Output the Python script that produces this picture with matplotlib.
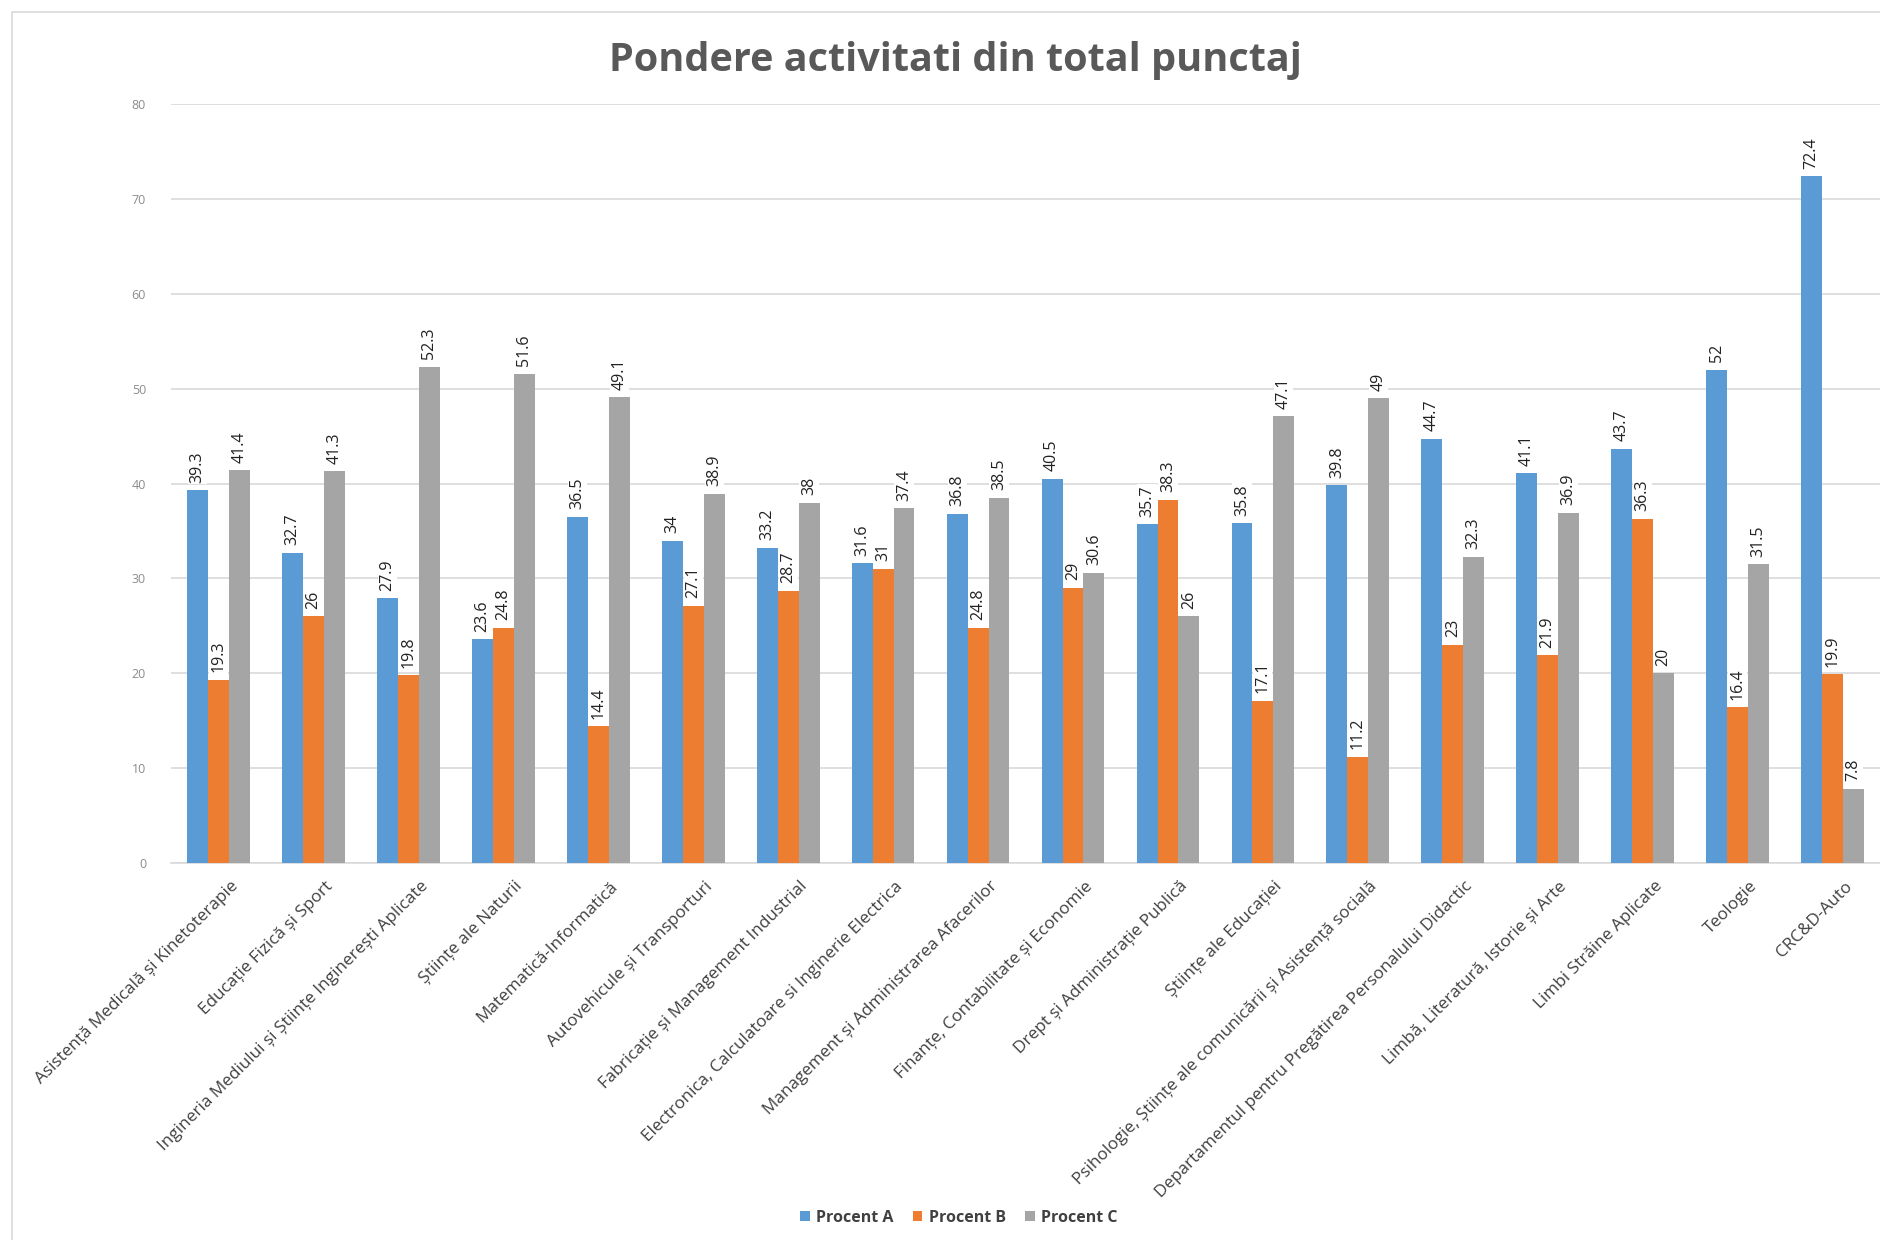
import matplotlib.pyplot as plt
from matplotlib.patches import Rectangle
import numpy as np

plt.rcParams['font.family'] = ['Open Sans', 'DejaVu Sans']

# Categorii (facultati / departamente)
categorii = [
    "Asistență Medicală și Kinetoterapie",
    "Educație Fizică și Sport",
    "Ingineria Mediului și Științe Inginerești Aplicate",
    "Științe ale Naturii",
    "Matematică-Informatică",
    "Autovehicule și Transporturi",
    "Fabricație și Management Industrial",
    "Electronica, Calculatoare si Inginerie Electrica",
    "Management și Administrarea Afacerilor",
    "Finanțe, Contabilitate și Economie",
    "Drept și Administrație Publică",
    "Științe ale Educației",
    "Psihologie, Științe ale comunicării și Asistență socială",
    "Departamentul pentru Pregătirea Personalului Didactic",
    "Limbă, Literatură, Istorie și Arte",
    "Limbi Străine Aplicate",
    "Teologie",
    "CRC&D-Auto",
]

procent_a = [39.3, 32.7, 27.9, 23.6, 36.5, 34, 33.2, 31.6, 36.8, 40.5,
             35.7, 35.8, 39.8, 44.7, 41.1, 43.7, 52, 72.4]
procent_b = [19.3, 26, 19.8, 24.8, 14.4, 27.1, 28.7, 31, 24.8, 29,
             38.3, 17.1, 11.2, 23, 21.9, 36.3, 16.4, 19.9]
procent_c = [41.4, 41.3, 52.3, 51.6, 49.1, 38.9, 38, 37.4, 38.5, 30.6,
             26, 47.1, 49, 32.3, 36.9, 20, 31.5, 7.8]

serii = [("Procent A", procent_a, "#5B9BD5"),
         ("Procent B", procent_b, "#ED7D31"),
         ("Procent C", procent_c, "#A5A5A5")]

fig = plt.figure(figsize=(18.8, 12.4), dpi=100)
ax = fig.add_axes([0.091, 0.304, 0.909, 0.612])

# chenarul graficului
fig.patches.append(Rectangle((0.0065, -0.01), 1.1, 1.0, transform=fig.transFigure,
                             fill=False, edgecolor="#D9D9D9", linewidth=1.2))

x = np.arange(len(categorii))
latime = 0.22
for i, (nume, valori, culoare) in enumerate(serii):
    pozitii = x + (i - 1) * latime
    ax.bar(pozitii, valori, latime, color=culoare, label=nume, zorder=3)
    for px, v in zip(pozitii, valori):
        ax.annotate(f"{v:g}", (px, v), xytext=(0, 5.5), textcoords="offset points",
                    rotation=90, ha="center", va="bottom", fontsize=11.5,
                    color="#222222", zorder=4,
                    bbox=dict(boxstyle="square,pad=0.1", fc="white", ec="none"))

ax.set_xlim(-0.5, len(categorii) - 0.5)
ax.set_ylim(0, 80)
ax.set_yticks(range(0, 81, 10))
ax.yaxis.grid(True, color="#D9D9D9", linewidth=1.2, zorder=0)
ax.tick_params(axis="y", length=0, labelsize=9, labelcolor="#8C8C8C", pad=18)
ax.tick_params(axis="x", length=0, pad=11)
for s in ["top", "right", "left"]:
    ax.spines[s].set_visible(False)
ax.spines["bottom"].set_color("#D9D9D9")
ax.spines["bottom"].set_linewidth(1.2)

ax.set_xticks(x + 0.12)
ax.set_xticklabels(categorii, rotation=45, ha="right", rotation_mode="anchor",
                   fontsize=12.3, color="#404040")

fig.suptitle("Pondere activitati din total punctaj", x=0.508, y=0.967,
             fontsize=28.5, fontweight="bold", color="#595959")

fig.legend(loc="center", bbox_to_anchor=(0.51, 0.018), ncol=3, frameon=False,
           handlelength=0.6, handleheight=0.6, columnspacing=1.2,
           handletextpad=0.4, prop={"weight": "bold", "size": 11.5})
for t in fig.legends[0].get_texts():
    t.set_color("#404040")

fig.savefig("out.png", dpi=100, facecolor="white")
